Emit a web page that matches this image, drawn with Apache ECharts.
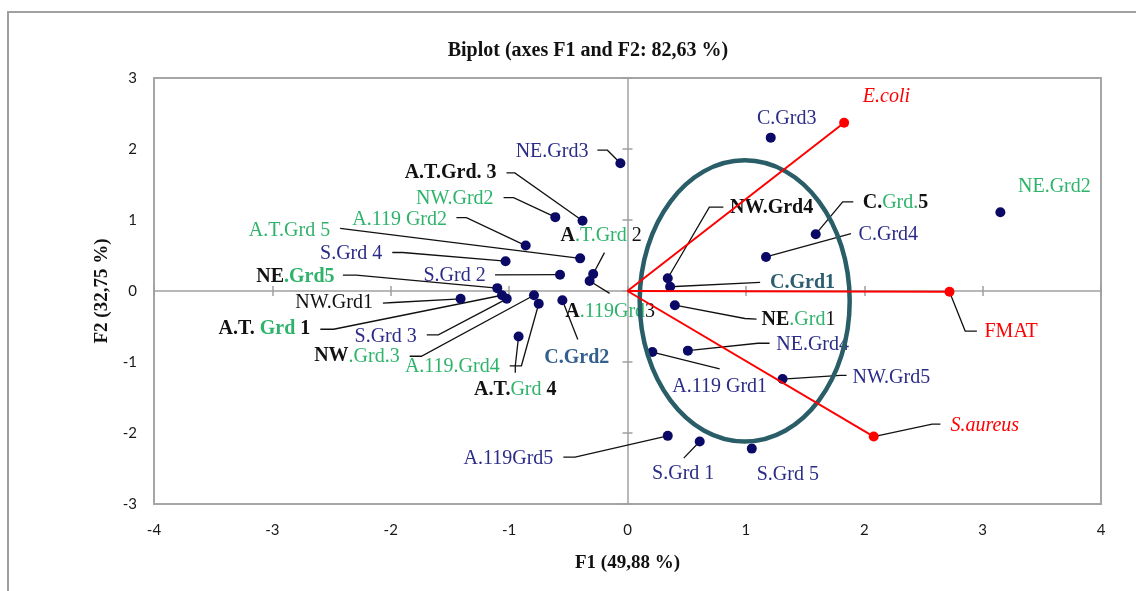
<!DOCTYPE html>
<html>
<head>
<meta charset="utf-8">
<script src="https://cdn.jsdelivr.net/npm/echarts@6/dist/echarts.min.js"></script>
<style>
html,body{margin:0;padding:0;background:#fff;}
#chart{width:1136px;height:591px;}
</style>
</head>
<body>
<div id="chart"></div>
<script>
// ---- data ----
const obsNames = ['NE.Grd3','A.T.Grd. 3','NW.Grd2','A.119 Grd2','A.T.Grd 5','S.Grd 4','A.T.Grd 2','S.Grd 2','NE.Grd5','NW.Grd1',
  'A.T. Grd 1','S.Grd 3','NW.Grd.3','A.119.Grd4','A.T.Grd 4','C.Grd2','A.119Grd3','C.Grd3','NE.Grd2','C.Grd.5',
  'C.Grd4','NW.Grd4','C.Grd1','NE.Grd1','NE.Grd4','NW.Grd5','A.119 Grd1','A.119Grd5','S.Grd 1','S.Grd 5'];
const obsF1 = [-0.06,-0.38,-0.61,-0.86,-0.40,-1.03,-0.29,-0.57,-1.10,-1.41,
  -1.06,-1.02,-0.79,-0.75,-0.92,-0.55,-0.32,1.21,3.15,1.59,
  1.17,0.34,0.36,0.40,0.51,1.31,0.21,0.34,0.61,1.05];
const obsF2 = [1.80,0.99,1.04,0.64,0.46,0.42,0.24,0.23,0.04,-0.11,
  -0.06,-0.11,-0.06,-0.18,-0.64,-0.13,0.14,2.16,1.11,0.80,
  0.48,0.18,0.06,-0.20,-0.84,-1.24,-0.86,-2.04,-2.12,-2.22];
const varNames = ['E.coli','FMAT','S.aureus'];
const varF1 = [1.83, 2.72, 2.08];
const varF2 = [2.37, -0.01, -2.05];
const ellipseCenter = [0.99, -0.14];
const ellipseRadius = [0.887, 1.98];
const xRange = [-4, 4, 1];   // min, max, interval
const yRange = [-3, 3, 1];

// ---- label layout (pixel offsets from each point) ----
const obsLayout = [
  {lab:[-32,-11], a:'right', path:[[-13,-13],[-23,-13]], t:'{n|NE.Grd3}'},
  {lab:[-86,-47.5], a:'right', path:[[-67.7,-47.8],[-76,-47.8]], t:'{kb|A.T.Grd. 3}'},
  {lab:[-61.7,-18.3], a:'right', path:[[-41.7,-19.6],[-51.7,-19.6]], t:'{g|NW.Grd2}'},
  {lab:[-78.7,-26.3], a:'right', path:[[-59.3,-28],[-69.3,-28]], t:'{g|A.119 Grd2}'},
  {lab:[-250,-27.3], a:'right', path:[[-240,-30]], t:'{g|A.T.Grd 5}'},
  {lab:[-123.3,-7], a:'right', path:[[-103,-8.7],[-113.3,-8.7]], t:'{n|S.Grd 4}'},
  {lab:[-32.7,-38], a:'left', path:[[11.3,-21.3]], t:'{kb|A}{g|.T.Grd}{k| 2}'},
  {lab:[-74.3,0.7], a:'right', path:[[-65,0.3]], t:'{n|S.Grd 2}'},
  {lab:[-162.7,-11.6], a:'right', path:[[-141,-13],[-154.4,-13]], t:'{kb|NE}{gb|.Grd5}'},
  {lab:[-87.7,4.3], a:'right', path:[[-67,3.7],[-77.7,4.3]], t:'{k|NW.Grd1}'},
  {lab:[-191.7,34], a:'right', path:[[-168.4,34],[-181.7,34]], t:'{kb|A.T. }{gb|Grd }{kb|1}'},
  {lab:[-90,37.7], a:'right', path:[[-68.4,36],[-80,36]], t:'{n|S.Grd 3}'},
  {lab:[-134.3,61], a:'right', path:[[-112.6,61],[-124.3,61]], t:'{kb|NW}{g|.Grd.3}'},
  {lab:[-39,63.3], a:'right', path:[[-17.3,62],[-29,62]], t:'{g|A.119.Grd4}'},
  {lab:[-3.3,53.3], a:'center', path:[[-3.3,29.3],[-3.3,36.3]], t:'{kb|A.T.}{g|Grd }{kb|4}'},
  {lab:[14.4,57.3], a:'center', path:[[15.4,39.3]], t:'{s|C.Grd2}'},
  {lab:[-24.3,30.7], a:'left', path:[[20,12.3]], t:'{kb|A}{g|.119Grd}{k|3}'},
  {lab:[16,-19], a:'center', path:[], t:'{n|C.Grd3}'},
  {lab:[54,-25], a:'center', path:[], t:'{g|NE.Grd2}'},
  {lab:[47,-31.3], a:'left', path:[[27,-32.3],[37.6,-32.3]], t:'{kb|C.}{g|Grd.}{kb|5}'},
  {lab:[92.6,-22.4], a:'left', path:[[85,-23.4]], t:'{n|C.Grd4}'},
  {lab:[62.3,-70], a:'left', path:[[41.6,-71],[55.6,-71]], t:'{kb|NW.Grd4}'},
  {lab:[100,-4.4], a:'left', path:[[90,-4.4]], t:'{tl|C.Grd1}'},
  {lab:[86.7,15], a:'left', path:[[70,13.3],[81.7,14]], t:'{kb|NE}{g|.Grd}{k|1}'},
  {lab:[88.4,-5.7], a:'left', path:[[70,-7.4],[81.7,-7.4]], t:'{n|NE.Grd4}'},
  {lab:[70,-1.6], a:'left', path:[[57.7,-3.6],[64,-3.6]], t:'{n|NW.Grd5}'},
  {lab:[67.3,34.4], a:'center', path:[[67.3,16.7]], t:'{n|A.119 Grd1}'},
  {lab:[-114.4,23.3], a:'right', path:[[-92.7,21.3],[-104.4,21.3]], t:'{n|A.119Grd5}'},
  {lab:[-16.5,32.3], a:'center', path:[[-16,16.6]], t:'{n|S.Grd 1}'},
  {lab:[36,25.7], a:'center', path:[], t:'{n|S.Grd 5}'}
];
const varLayout = [
  {lab:[18.7,-26.3], a:'left', path:[], t:'{ri|E.coli}'},
  {lab:[35,40], a:'left', path:[[15.7,39.4],[27.4,39.4]], t:'{r|FMAT}'},
  {lab:[76.7,-11], a:'left', path:[[58.4,-12.4],[66.7,-12.4]], t:'{ri|S.aureus}'}
];

const SERIF = '"Liberation Serif", "Times New Roman", serif';
function tok(color, weight, style){
  return {fill:color, color:color, fontFamily:SERIF, fontSize:20, fontWeight:weight||'normal', fontStyle:style||'normal'};
}
const richStyles = {
  n: tok('#2b2b88'),
  g: tok('#2eb36b'),
  gb: tok('#2eb36b','bold'),
  k: tok('#111111'),
  kb: tok('#111111','bold'),
  tl: tok('#2d5e70','bold'),
  s: tok('#34608e','bold'),
  r: tok('#ff0000'),
  ri: tok('#ff0000','normal','italic')
};

function labelRenderer(layout){
  return function(params, api){
    const p = api.coord([api.value(0), api.value(1)]);
    const L = layout[params.dataIndex];
    const children = [];
    if (L.path.length){
      const pts = [p].concat(L.path.map(o => [p[0]+o[0], p[1]+o[1]]));
      children.push({type:'polyline', shape:{points:pts}, style:{stroke:'#111', lineWidth:1.3, fill:null}});
    }
    children.push({type:'text', x:p[0]+L.lab[0], y:p[1]+L.lab[1],
      style:{text:L.t, rich:richStyles, align:L.a, verticalAlign:'middle', fontFamily:SERIF, fontSize:20, fill:'#111'}});
    return {type:'group', children:children};
  };
}

const obsData = obsF1.map((x,i) => [x, obsF2[i]]);
const varData = varF1.map((x,i) => [x, varF2[i]]);

const axisGray = '#a0a0a0';
function baseAxis(r){ return {type:'value', min:r[0], max:r[1], interval:r[2], splitLine:{show:false}}; }

const xAxes = [
  Object.assign(baseAxis(xRange), {position:'bottom', axisLine:{show:false, onZero:false}, axisTick:{show:false},
    axisLabel:{fontFamily:'Lato', fontSize:15, color:'#1a1a1a', margin:19},
    name:'F1 (49,88 %)', nameLocation:'middle', nameGap:50,
    nameTextStyle:{fontFamily:SERIF, fontSize:19, fontWeight:'bold', color:'#111'}}),
  Object.assign(baseAxis(xRange), {position:'bottom', axisLine:{show:true, onZero:true, onZeroAxisIndex:0, lineStyle:{color:axisGray, width:1.5}},
    axisTick:{show:true, inside:false, length:5, lineStyle:{color:axisGray, width:1.5}}, axisLabel:{show:false}}),
  Object.assign(baseAxis(xRange), {position:'bottom', axisLine:{show:false, onZero:true, onZeroAxisIndex:0},
    axisTick:{show:true, inside:true, length:5, lineStyle:{color:axisGray, width:1.5}}, axisLabel:{show:false}})
];
const yAxes = [
  Object.assign(baseAxis(yRange), {position:'left', axisLine:{show:false, onZero:false}, axisTick:{show:false},
    axisLabel:{fontFamily:'Lato', fontSize:15, color:'#1a1a1a', margin:17},
    name:'F2 (32,75 %)', nameLocation:'middle', nameGap:34,
    nameTextStyle:{fontFamily:SERIF, fontSize:19, fontWeight:'bold', color:'#111'}}),
  Object.assign(baseAxis(yRange), {position:'left', axisLine:{show:true, onZero:true, onZeroAxisIndex:0, lineStyle:{color:axisGray, width:1.5}},
    axisTick:{show:true, inside:false, length:5, lineStyle:{color:axisGray, width:1.5}}, axisLabel:{show:false}}),
  Object.assign(baseAxis(yRange), {position:'left', axisLine:{show:false, onZero:true, onZeroAxisIndex:0},
    axisTick:{show:true, inside:true, length:5, lineStyle:{color:axisGray, width:1.5}}, axisLabel:{show:false}})
];

const chart = echarts.init(document.getElementById('chart'), null, {renderer:'canvas'});
chart.setOption({
  animation:false,
  backgroundColor:'#fff',
  title:{text:'Biplot (axes F1 and F2: 82,63 %)', left:583, top:36, textAlign:'center',
    textStyle:{fontFamily:SERIF, fontSize:20, fontWeight:'bold', color:'#111'}},
  graphic:[{type:'rect', shape:{x:8, y:12, width:1300, height:800}, style:{fill:'none', stroke:'#a0a0a0', lineWidth:2}, silent:true, z:-10}],
  grid:{left:154, top:78, width:947, height:426, show:true, borderColor:'#a6a6a6', borderWidth:2, backgroundColor:'transparent'},
  xAxis:xAxes,
  yAxis:yAxes,
  series:[
    {type:'custom', name:'labels', data:obsData, renderItem:labelRenderer(obsLayout), z:2, silent:true},
    {type:'custom', name:'varLabels', data:varData, renderItem:labelRenderer(varLayout), z:2, silent:true},
    {type:'scatter', name:'observations', data:obsData, symbol:'circle', symbolSize:10,
      itemStyle:{color:'#0a0a66', opacity:1}, z:3, silent:true},
    {type:'custom', name:'ellipse', data:[[ellipseCenter[0], ellipseCenter[1], ellipseRadius[0], ellipseRadius[1]]],
      renderItem:function(params, api){
        const c = api.coord([api.value(0), api.value(1)]);
        const s = api.size([api.value(2), api.value(3)]);
        return {type:'ellipse', shape:{cx:c[0], cy:c[1], rx:s[0], ry:s[1]}, style:{fill:'transparent', stroke:'#295d67', lineWidth:4.5}};
      }, z:4, silent:true},
    {type:'custom', name:'vectors', data:varData,
      renderItem:function(params, api){
        const o = api.coord([0,0]);
        const p = api.coord([api.value(0), api.value(1)]);
        return {type:'group', children:[
          {type:'line', shape:{x1:o[0], y1:o[1], x2:p[0], y2:p[1]}, style:{stroke:'#ff0000', lineWidth:2}},
          {type:'circle', shape:{cx:p[0], cy:p[1], r:5}, style:{fill:'#ff0000'}}
        ]};
      }, z:5, silent:true}
  ]
});
</script>
</body>
</html>
